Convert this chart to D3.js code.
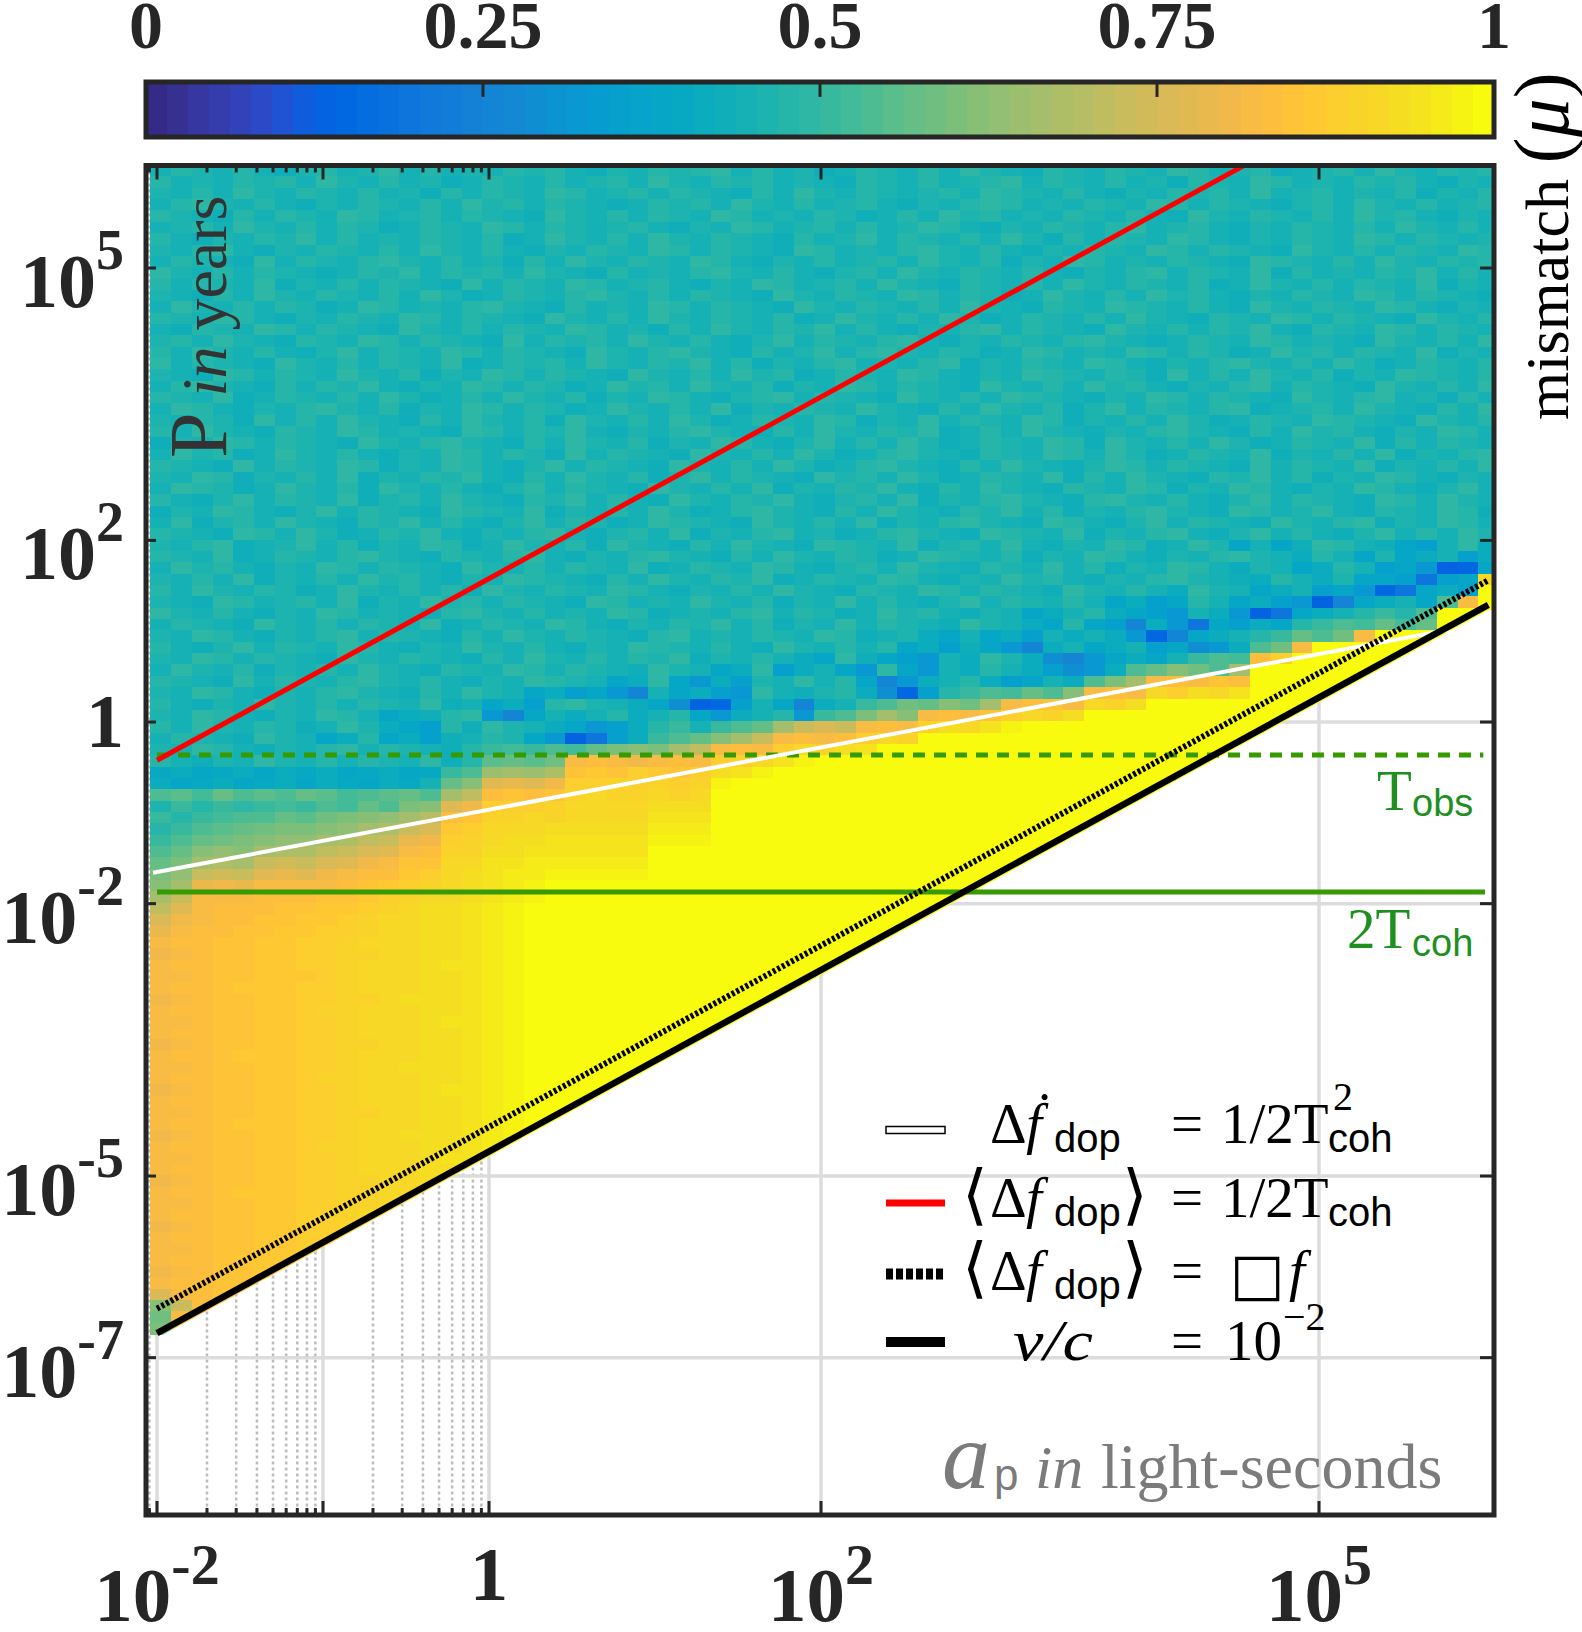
<!DOCTYPE html>
<html><head><meta charset="utf-8">
<script src="https://cdn.jsdelivr.net/npm/d3@7"></script>
<style>body{margin:0;background:#fff}svg{display:block}</style>
</head><body>
<svg id="chart" width="1582" height="1632"></svg>
<script>
// ================= DATA =================
const xDomain = [0.008585, 1.1329e6];      // a_p (light-seconds) axis limits
const yDomain = [1.849e-9, 1.346e6];       // P (years) axis limits
const xTickVals = [1e-2, 1, 1e2, 1e5];
const xTickLabels = [["10","-2"], ["1",""], ["10","2"], ["10","5"]];
const xMajorTicks = [1e-2, 1e-1, 1, 1e2, 1e5];
const xMinorTicks = [0.009,0.02,0.03,0.04,0.05,0.06,0.07,0.08,0.09,0.2,0.3,0.4,0.5,0.6,0.7,0.8,0.9];
const yTickVals = [1e5, 1e2, 1, 1e-2, 1e-5, 1e-7];
const yTickLabels = [["10","5"], ["10","2"], ["1",""], ["10","-2"], ["10","-5"], ["10","-7"]];
const cbTickVals = [0, 0.25, 0.5, 0.75, 1];
const cbTickLabels = ["0", "0.25", "0.5", "0.75", "1"];
const parula = ["#352a87","#363093","#3637a0","#353dad","#3243ba","#2c4ac7","#2053d4","#0f5cdd",
"#0363e1","#0268e1","#046de0","#0871de","#0d75dc","#1079da","#127dd8","#1481d6",
"#1485d4","#1389d3","#108ed2","#0c93d2","#0998d1","#079ccf","#06a0cd","#06a4ca",
"#06a7c6","#07a9c2","#0aacbe","#0faeb9","#15b1b4","#1db3af","#25b5a9","#2eb7a4",
"#38b99e","#42bb98","#4dbc92","#59bd8c","#65be86","#71bf80","#7cbf7b","#87bf77",
"#92bf73","#9cbf6f","#a5be6b","#aebe67","#b7bd64","#c0bc60","#c8bc5d","#d1bb59",
"#d9ba56","#e1b952","#e9b94e","#f1b94a","#f8bb44","#fdbe3d","#ffc337","#fec832",
"#fcce2e","#fad32a","#f7d826","#f5de21","#f5e41d","#f5eb18","#f6f313","#f9fb0e"];
// heatmap grid (log10 of a_p and P), one character per cell = mismatch level (64 levels)
const gridLog10A0 = -2.04, gridLog10AStep = 0.125;
const gridLog10PTop = 6.134, gridLog10PStep = 0.125;
const levelChars = "0123456789abcdefghijklmnopqrstuvwxyzABCDEFGHIJKLMNOPQRSTUVWXYZ+*";
const mismatchRows = [
"sutsusrtustvsustsutusrtsutuvsustrsutsusvtsrutsutsvusturstusvtsutus",
"ustsutusvtsustrsutsustusvtsutustsrutsustuvsutsustrutsvustsutusrtsu",
"tsusvtsutsustrusutsvustusutsrusvtsutstusvutsusrtsutusvstustsurtsuv",
"suvtsusrtsutsusvtusutsrsutusvtsustusrtsuvustsutsvusutsrtusvtsustus",
"utsrusutsvustusutsrvtsusutsvustsutrsusvtustsutsusrvtsutsusvtusrtsu",
"stusvtsusutrsutsvusutstusrtsvustusustvusrtsutsuvstusrtsutsusvtsusr",
"usrtsutvsustsutsursvtsusvtsutsrustvsutsusvtrusutsvusrtsutsvusutsts",
"tsuvsrtsutsusvtsusrtsutsvusutsrvustsuvtsusrtsutsvusutsrvtsusutsvus",
"sutsrvsutsuvtsustrusvtsutsvusrtsustusvtsurtsvustsutsrvutsusvtsutus",
"vtsusutsrsutvsutusvtsrustsuvtsusrtusvtsutsusrtsuvsutsvrustsutvsusr",
"usutsvrtsusutsrvsutsvustusrtsvustusvtsrutsusvtsutsursvtsusutsvrtsu",
"tsrusvtsutsusvtrsutsuvtsusutsrvtsutsvusutrsvtsusvtusrtsutsvusutsrv",
"svtsusutrsvustsuvtsrustsvusutsrvtsutsusvtsrutsvutsusrvtsutsvusrtsu",
"utsvusrtsutsvusutsrvtsusvtsutsursvtsusvtrsutsusvtsrutsvusutsrvtsus",
"srutsvusutsrvtsusutsvustrusvtsutvsusrtsuvsutsrvtsusutvsrutsvusutsr",
"tusvtsrutsvusutsrvsutusvtsusrtvsutsuvsrtsutsuvtsrsutsvustsrvtsusvt",
"usvtsusrtvsutsvusutsrvtsuvtsrustvsuvtsutrsvustsvusutrsvtusutsvrtsu",
"vsutsrvtsusutsvrsutusvtsutvsurtsuvstsuvrtsutsvusrtsuvtsusvtrsutsuv",
"tsrvusutsvtsurtsvusutsrvtsusvtursutsvusrtsvutsutrvsusvtsurtsvutsus",
"suvtsrusutvsrtsvusutrsvtusvtsurtsvusutsrvtsusvtusrtsuvsutsrvtsusvr",
"utsvrsutsusvtrsusvtsurtsvusrtuvsutsrvtsusvutsrtsvusutsrvtsuvstrusv",
"svusrtsuvtsurtsvusutrsvtsusvrtsutsvtsrusvtsurtvsutsuvrstusvtsrusvt",
"tsutrvsusvtsrusvtsurvtsusvtrsutsvurtsvsutsvurtsusvtrsutsvutsrvtsus",
"usvtsrutsvustsrvusutvsrtsuvtsrusvtsutvrsusvtsrtsuvtsrusvtusrtsvusu",
"rtsvusutsrvtsuvtsrusvtsurtsvusrtvsusvtrsutsvurvtsusvtrsutsvrusutsv",
"svtursvtsusrtsvusutrvsutsrvtsusvtrsuvtsrutsvusvtrsutsvrtsusvrtsuvs",
"utsrvsutsvurtsvusrtvsutsrvtsusvtrsuvtsrusvtsrtvusutsrvsutsvrtsusvt",
"tsvurtsusvrtsutvsrusvtsurtvsutsrvtusvtrsutsvrusvtsrutvsurtsvusrtsv",
"svutrsvtsurvtsusrtvsutsrvtsusvrtsutvsrusvtsrutsvurtsvusrtsvusrtvsu",
"usrtvsutsvrtusvtsrutvsusrvtsutvsrtusvrtsuvtsruvtsusrtvsutsrvusvtsr",
"rtsvusrtvsutsrvutsvrtsusvtrsuvtsrusvtsrutvsurtsuvtsrvustvsrutsvurt",
"svrtusvtsrutvsusrtvsutrsvutsrvtsusvrtsuvtsrvusrtvsutsrvtsuvrtsvusr",
"utsrvusvtrsutvsrtsuvsrtusvrtsuvstrsuvtsrvutsvrtsuvsrtvsusrtvsusvtr",
"tsuvrstvsurtsvursvtsurvtsrusvtsrvutsvrtusvsrtsvursvtosorvusromsvqu",
"utsvrsutsuvtsrutsuvsrtsuvtsrusvtsutrsvutsurtsvusrtsuvtsqusotoqsmqsq",
"svtusrtsvusutsrvtsusutsvrsutsvusrtusvtsrutsvsurtsvusqtsoqusmok89oqs",
"tsusvrtsusvtusrtsvutsrusvtsutvrsutsvusrtsvtusrtsuvtsrqusqtoomcmoW**",
"usvtsutrsvtsusurvtsutsvusrtsusvtsrutsvusutsrvtsusqvtsoqsmok9coqm***",
"tsrvustusvrtsvtusutsrvustsvtsurtsvsusrtvsutsusoqmousoqmk8goqsoyQ***",
"vtsusrtsvustsruvtsustsvurstsuvsutrsvtusrtsoqsuqomksqk8coqsuwuy*****",
"sutsrvtsusutsvrsutsvusrtsutvsurtsvsutsrvtsqouomgqkcomqouwyxAxA*****",
"tsvusrtsuvsutsrusvtsutsruvstsutsvurstqosoqmsqsqk9goqsuwAyBQ********",
"usrtvsutsvusrtsvtsusrtsvutsusrvtsusuoqmrokgqsoqsmoikqyBQ************",
"tsvusutsrvtsutsrusvtsusutvrtsusqovromksqvtqigkoqoswyxRU************",
"svtsurtsusvtsrutsvusutsrvtsoqvmqsokvoksqusqmikqyADByG**************",
"utsrvsutsuvtsusrtsvutsoqvokqmtsvsuogkqsuqmosqyCGQRQSR**************",
"tsvusrtsuvtsrusvtsoqmokgsoqmkvsrtuqi9muwyxAyDQRQWUXWY**************",
"usrtsvtsusutsvrsoqmuvtsqoi89msogqswyBADBGQRSQWVX*******************",
"tsvusrtsvusoqruvkgosqsuqsuokqsukwyCGDQRQSUWVX*********************",
"usvtsutrsvtqomurvtsqokmquwswyAGKMKQRQVXWY+**************************",
"sutsrvtsoquoqmrsutok8cmqwyADGKQRQRUWV*****************************",
"tsvusrtsuvsutsruwxwyxACDCGJQRQUWVXY**********************************",
"usrtsvtsusutsvruzAzBQRQPQRQUVWY+***********************************",
"pqopqoqpqopqopwyFGFHSTSUTSUXY+**************************************",
"qopqopqoqpoqpsADNONPUUVUVUV+****************************************",
"yzxAyzyAzxyzAyGJRSRSVWVVWVW*****************************************",
"twuwvwxwyxAyCDNPUUUVWWWWXXX****************************************",
"wuwxyyAzBCDEGIRSVVWVWWWWYYY***************************************",
"uwyzABCCDEGHKMTUWWWXXXXXZZZ**************************************",
"wyABCDEEGHJKOPUVWXXYYYYY+++*************************************",
"yADEDGHHJKMNQRVVXXYYYYYY****************************************",
"ACGHGKLKMNPQSSWWYYZZZZZZ****************************************",
"CEKLKNONPQRRTUWXYZZ+++++***************************************",
"DGOPOQQQQRSTUVWXYZ+********************************************",
"GKQQQRRRSSTUVWWXYZ+*******************************************",
"JNQRRRSSTTUVWXXYZ+********************************************",
"MPQRRSSTTUVWWXXYZ+*******************************************",
"OQRRSSTTUUVWWXXYZ+*******************************************",
"QRRSSTTUUVWWWXXYZ+*",
"PQRSSTTUUVVWWXXYZ+*",
"QRRSSTTUUVWWWXYYZ+*",
"QQRSSTTTUVWWWXXYZ+*",
"QRRSTTTUUVWWWXXYZ+*",
"PQRSSTTUUVVWXXXYZ+*",
"QRRSSTTUVVWWWXXYZ+*",
"QQRSSTTUUVWWWXYYZ+*",
"QRRSSTTUUVWWWXXYZ+*",
"PQRSSTTUUVVWWXXYZ+*",
"QRRSTTTUUVWWWXXYZ+*",
"QQRSSTTUUVWWXXXYZ+*",
"QRRSSTTUVVWWWXXYZ+*",
"PQRSSTTUUVWWWXYYZ+*",
"QRRSSTTUUVWWWXXYZ+*",
"QQRSSTTUUVVWWXXYZ+*",
"QRRSTTTUUVWWWXXYZ+*",
"PQRSSTTUUVWWXXXYZ+*",
"QRRSSTTUVVWWWXXYZ+*",
"QQRSSTTUUVWWWXYYZ+*",
"QRRSSTTUUVWWWXXYZ+*",
"PQRSSTTUUVVWWXXYZ+*",
"QRRSTTTUUVVWWWXX",
"QQRSSTTUUVVWWXX",
"QRRSSTTUVVWWWX",
"PQRSSTTUUVVWW",
"QRRSSTTUUVWW",
"QQRSSTTUUVV",
"QRRSTTTUUV",
"PQRSSTTUU",
"QRRSSTTU",
"MQRSSTT",
"DKRSST",
"BQRS",
"CQR"
];
// overlay curves: [a_p, P] end points (straight lines in log-log)
const redLine    = [[0.01, 0.380], [3.548e4, 1.349e6]];     // <Δf_dop> = 1/2Tcoh
const whiteLine  = [[0.009462, 0.02188], [6.166e5, 10.47]];  // Δḟ_dop = 1/2Tcoh²
const dottedLine = [[0.01, 3.467e-7], [1.047e6, 36.31]];     // <Δf_dop> = δf
const vcLine     = [[0.01, 1.862e-7], [1.047e6, 19.50]];     // v/c = 1e-2
const tObs  = {P: 0.4335, a: [0.01, 9.77e5]};
const tCoh2 = {P: 0.01340, a: [0.01, 1.0e6]};

// ================= DRAW =================
const svg = d3.select("#chart");
const L = 146, R = 1494, T = 165.5, B = 1515;
const x = d3.scaleLog().domain(xDomain).range([L, R]);
const y = d3.scaleLog().domain(yDomain).range([B, T]);
const color = d3.scaleQuantize().domain([0, 1]).range(parula);
const SERIF = "'Liberation Serif','Times New Roman',Times,serif";
const SANS = "'Liberation Sans',Arial,Helvetica,sans-serif";
const INK = "#262626";
const defs = svg.append("defs");
defs.append("clipPath").attr("id", "plotClip").append("rect")
  .attr("x", L).attr("y", T).attr("width", R - L).attr("height", B - T);
const vc0 = [x(vcLine[0][0]), y(vcLine[0][1])], vc1 = [x(vcLine[1][0]), y(vcLine[1][1])];
defs.append("clipPath").attr("id", "heatClip").append("polygon")
  .attr("points", [[L, T], [R, T], [R, vc1[1] + 5], [vc1[0], vc1[1] + 5], [vc0[0], vc0[1] + 5], [L, vc0[1] + 5]].map(p => p.join(",")).join(" "));

// grid
const gG = svg.append("g");
gG.selectAll("line.mn").data(xMinorTicks).join("line")
  .attr("x1", d => x(d)).attr("x2", d => x(d)).attr("y1", T).attr("y2", B)
  .attr("stroke", "#bcbcbc").attr("stroke-width", 2.5).attr("stroke-dasharray", "3,3");
gG.selectAll("line.vm").data(xMajorTicks).join("line")
  .attr("x1", d => x(d)).attr("x2", d => x(d)).attr("y1", T).attr("y2", B)
  .attr("stroke", "#dcdcdc").attr("stroke-width", 3.5);
gG.selectAll("line.hm").data(yTickVals).join("line")
  .attr("x1", L).attr("x2", R).attr("y1", d => y(d)).attr("y2", d => y(d))
  .attr("stroke", "#dcdcdc").attr("stroke-width", 3.5);

// heatmap
const cells = [];
mismatchRows.forEach((row, k) => {
  const r = row.padEnd(66, row[row.length - 1]);
  for (let j = 0; j < r.length; j++) {
    const idx = levelChars.indexOf(r[j]);
    if (idx < 0) continue;
    cells.push({j, k, v: (idx + 0.5) / 64});
  }
});
const aAt = j => Math.pow(10, gridLog10A0 + j * gridLog10AStep);
const pAt = k => Math.pow(10, gridLog10PTop - k * gridLog10PStep);
svg.append("g").attr("clip-path", "url(#heatClip)").attr("shape-rendering", "crispEdges")
  .selectAll("rect").data(cells).join("rect")
  .attr("x", d => x(aAt(d.j))).attr("y", d => y(pAt(d.k)))
  .attr("width", d => x(aAt(d.j + 1)) - x(aAt(d.j)) + 0.6)
  .attr("height", d => y(pAt(d.k + 1)) - y(pAt(d.k)) + 0.6)
  .attr("fill", d => color(d.v));

// overlay lines
const line = d3.line().x(d => x(d[0])).y(d => y(d[1]));
const gL = svg.append("g").attr("clip-path", "url(#plotClip)").attr("fill", "none");
gL.append("line").attr("x1", x(tObs.a[0])).attr("x2", x(tObs.a[1])).attr("y1", y(tObs.P)).attr("y2", y(tObs.P))
  .attr("stroke", "#379a00").attr("stroke-width", 5).attr("stroke-dasharray", "12,9");
gL.append("line").attr("x1", x(tCoh2.a[0])).attr("x2", x(tCoh2.a[1])).attr("y1", y(tCoh2.P)).attr("y2", y(tCoh2.P))
  .attr("stroke", "#379a00").attr("stroke-width", 5);
gL.append("path").attr("d", line(whiteLine)).attr("stroke", "#ffffff").attr("stroke-width", 4);
gL.append("path").attr("d", line(redLine)).attr("stroke", "#ff0000").attr("stroke-width", 5);
gL.append("path").attr("d", line(dottedLine)).attr("stroke", "#000").attr("stroke-width", 6).attr("stroke-dasharray", "3,2.2");
gL.append("path").attr("d", line(vcLine)).attr("stroke", "#000").attr("stroke-width", 6.5);

// frame + ticks
const gA = svg.append("g").attr("stroke", INK).attr("stroke-width", 3);
xMajorTicks.forEach(v => {
  gA.append("line").attr("x1", x(v)).attr("x2", x(v)).attr("y1", B).attr("y2", B - 14);
  gA.append("line").attr("x1", x(v)).attr("x2", x(v)).attr("y1", T).attr("y2", T + 14);
});
xMinorTicks.forEach(v => {
  gA.append("line").attr("x1", x(v)).attr("x2", x(v)).attr("y1", B).attr("y2", B - 7);
  gA.append("line").attr("x1", x(v)).attr("x2", x(v)).attr("y1", T).attr("y2", T + 7);
});
yTickVals.forEach(v => {
  gA.append("line").attr("x1", L).attr("x2", L + 10).attr("y1", y(v)).attr("y2", y(v));
  gA.append("line").attr("x1", R).attr("x2", R - 14).attr("y1", y(v)).attr("y2", y(v));
});
svg.append("rect").attr("x", L).attr("y", T).attr("width", R - L).attr("height", B - T)
  .attr("fill", "none").attr("stroke", INK).attr("stroke-width", 5);

// tick labels
function supLabel(sel, base, sup, supDy, supSize) {
  sel.append("tspan").text(base);
  if (sup) sel.append("tspan").attr("font-size", supSize).attr("dy", supDy).text(sup);
}
yTickVals.forEach((v, i) => {
  const lab = yTickLabels[i], yy = y(v);
  const t = svg.append("text").attr("x", 124).attr("y", lab[1] ? yy + 39 : yy + 25)
    .attr("text-anchor", "end").attr("font-family", SERIF).attr("font-weight", "bold")
    .attr("font-size", 76).attr("fill", INK);
  supLabel(t, lab[0], lab[1], -38, 56);
});
xTickVals.forEach((v, i) => {
  const lab = xTickLabels[i];
  const t = svg.append("text").attr("x", x(v)).attr("y", lab[1] ? 1621 : 1600)
    .attr("text-anchor", "middle").attr("font-family", SERIF).attr("font-weight", "bold")
    .attr("font-size", 77).attr("fill", INK);
  supLabel(t, lab[0], lab[1], -37, 58);
});

// axis titles
const tP = svg.append("text").attr("transform", "translate(226,458) rotate(-90)")
  .attr("font-family", SERIF).attr("fill", "#333").attr("font-size", 64);
tP.append("tspan").attr("font-size", 82).text("P");
tP.append("tspan").text(" ");
tP.append("tspan").attr("font-style", "italic").text("in");
tP.append("tspan").text(" years");
const gray = "#7b7b7b";
svg.append("text").attr("x", 942).attr("y", 1488).attr("font-family", SERIF).attr("font-style", "italic")
  .attr("font-size", 96).attr("fill", gray).text("a");
svg.append("text").attr("x", 994).attr("y", 1490).attr("font-family", SANS)
  .attr("font-size", 44).attr("fill", gray).text("p");
svg.append("text").attr("x", 1035).attr("y", 1488).attr("font-family", SERIF).attr("font-style", "italic")
  .attr("font-size", 62).attr("fill", gray).text("in");
svg.append("text").attr("x", 1101).attr("y", 1488).attr("font-family", SERIF)
  .attr("font-size", 64).attr("fill", gray).text("light-seconds");
const tM = svg.append("text").attr("transform", "translate(1568,420) rotate(-90)")
  .attr("font-family", SERIF).attr("font-size", 62).attr("fill", "#000");
tM.append("tspan").text("mismatch ");
tM.append("tspan").attr("font-size", 78).text("(");
tM.append("tspan").attr("font-size", 78).attr("font-style", "italic").text("μ");
tM.append("tspan").attr("font-size", 78).text(")");

// green labels
const GREEN = "#1f8f1f";
function piece(x0, y0, s, o) {
  const t = svg.append("text").attr("x", x0).attr("y", y0).text(s)
    .attr("font-family", o.f || SERIF).attr("font-size", o.s || 57).attr("fill", o.c || "#000");
  if (o.i) t.attr("font-style", "italic");
  if (o.a) t.attr("text-anchor", o.a);
  if (o.tl) t.attr("textLength", o.tl).attr("lengthAdjust", "spacingAndGlyphs");
  return t;
}
piece(1377, 810, "T", {s: 57, c: GREEN});
piece(1412, 816, "obs", {s: 38, f: SANS, c: GREEN});
piece(1347, 948, "2T", {s: 57, c: GREEN});
piece(1412, 956, "coh", {s: 38, f: SANS, c: GREEN});

// legend
const lx0 = 886, lx1 = 945;
svg.append("rect").attr("x", lx0).attr("y", 1126.5).attr("width", lx1 - lx0).attr("height", 7)
  .attr("fill", "#fff").attr("stroke", "#000").attr("stroke-width", 1.5);
svg.append("line").attr("x1", lx0).attr("x2", lx1).attr("y1", 1203).attr("y2", 1203).attr("stroke", "#ff0000").attr("stroke-width", 7);
svg.append("line").attr("x1", lx0).attr("x2", lx1).attr("y1", 1274).attr("y2", 1274).attr("stroke", "#000").attr("stroke-width", 11).attr("stroke-dasharray", "7,3");
svg.append("line").attr("x1", lx0).attr("x2", lx1).attr("y1", 1342).attr("y2", 1342).attr("stroke", "#000").attr("stroke-width", 10);
const BR = "'DejaVu Sans','DejaVu Serif',sans-serif";
// row 1
piece(990, 1143, "Δ", {});
piece(1026, 1143, "ḟ", {i: 1});
piece(1054, 1152, "dop", {s: 40, f: SANS});
piece(1171, 1143, "=", {});
piece(1221, 1143, "1/2T", {});
piece(1333, 1110, "2", {s: 40});
piece(1328, 1152, "coh", {s: 40, f: SANS});
// row 2
piece(962, 1217, "⟨", {f: BR, s: 66});
piece(990, 1217, "Δ", {});
piece(1026, 1217, "f", {i: 1});
piece(1054, 1226, "dop", {s: 40, f: SANS});
piece(1122, 1217, "⟩", {f: BR, s: 66});
piece(1171, 1217, "=", {});
piece(1221, 1217, "1/2T", {});
piece(1328, 1226, "coh", {s: 40, f: SANS});
// row 3
piece(962, 1290, "⟨", {f: BR, s: 66});
piece(990, 1290, "Δ", {});
piece(1026, 1290, "f", {i: 1});
piece(1054, 1299, "dop", {s: 40, f: SANS});
piece(1122, 1290, "⟩", {f: BR, s: 66});
piece(1171, 1290, "=", {});
piece(1230, 1294, "□", {f: BR, s: 58});
piece(1289, 1290, "f", {i: 1});
// row 4
piece(1013, 1360, "v/c", {i: 1, tl: 80});
piece(1171, 1360, "=", {});
piece(1225, 1360, "10", {});
piece(1283, 1330, "−2", {s: 40});

// colorbar
const cb = d3.scaleLinear().domain([0, 1]).range([L, R]);
const cbY = 82, cbH = 55;
svg.append("g").attr("shape-rendering", "crispEdges").selectAll("rect").data(parula).join("rect")
  .attr("x", (d, i) => cb(i / 64)).attr("width", (R - L) / 64 + 0.6)
  .attr("y", cbY).attr("height", cbH).attr("fill", d => d);
cbTickVals.slice(1, -1).forEach(v => {
  svg.append("line").attr("x1", cb(v)).attr("x2", cb(v)).attr("y1", cbY).attr("y2", cbY + 15)
    .attr("stroke", INK).attr("stroke-width", 3);
});
svg.append("rect").attr("x", L).attr("y", cbY).attr("width", R - L).attr("height", cbH)
  .attr("fill", "none").attr("stroke", INK).attr("stroke-width", 5);
cbTickVals.forEach((v, i) => {
  svg.append("text").attr("x", cb(v)).attr("y", 48).attr("text-anchor", "middle")
    .attr("font-family", SERIF).attr("font-weight", "bold").attr("font-size", 68).attr("fill", INK)
    .text(cbTickLabels[i]);
});
</script>
</body></html>
